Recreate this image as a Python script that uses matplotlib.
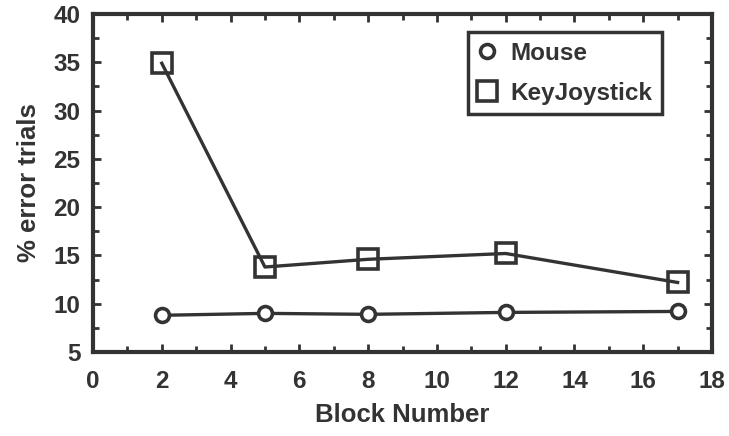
import matplotlib
matplotlib.use("Agg")
import matplotlib.pyplot as plt
from matplotlib.ticker import MultipleLocator
from matplotlib.lines import Line2D

plt.rcParams['font.family'] = ['Liberation Sans', 'DejaVu Sans']
plt.rcParams['font.weight'] = 'bold'
plt.rcParams['axes.labelweight'] = 'bold'

blocks = [2, 5, 8, 12, 17]
mouse = [8.8, 9.0, 8.9, 9.1, 9.2]
keyjoystick = [34.9, 13.8, 14.6, 15.2, 12.2]
series_names = ["Mouse", "KeyJoystick"]

ink = "#333333"
fig = plt.figure(figsize=(7.29, 4.36), dpi=100)
ax = fig.add_axes([93/729, 84/436, (712-93)/729, (352-14)/436])

ax.plot(blocks, mouse, color=ink, lw=2.4, marker='o', ms=10, mfc='white',
        mec=ink, mew=2.6, label=series_names[0])
ax.plot(blocks, keyjoystick, color=ink, lw=2.4, marker='s', ms=14, mfc='none',
        mec=ink, mew=2.6, label=series_names[1])

ax.set_xlim(0, 18)
ax.set_ylim(5, 40)
ax.xaxis.set_major_locator(MultipleLocator(2))
ax.xaxis.set_minor_locator(MultipleLocator(1))
ax.yaxis.set_major_locator(MultipleLocator(5))
ax.yaxis.set_minor_locator(MultipleLocator(2.5))
ax.tick_params(which='both', direction='in', top=True, right=True, color=ink, width=2)
ax.tick_params(which='major', length=6, labelsize=17.5, labelcolor=ink)
ax.tick_params(axis='x', which='major', pad=13)
ax.tick_params(axis='y', which='major', pad=9)
ax.tick_params(which='minor', length=4)
for s in ax.spines.values():
    s.set_linewidth(3)
    s.set_color(ink)

ax.set_xlabel("Block Number", fontsize=18.5, color=ink, labelpad=7)
ax.set_ylabel("% error trials", fontsize=18.5, color=ink, labelpad=9)

handles = [
    Line2D([], [], ls='none', marker='o', ms=10, mfc='white', mec=ink, mew=2.6),
    Line2D([], [], ls='none', marker='s', ms=14, mfc='none', mec=ink, mew=2.6),
]
leg = ax.legend(handles, series_names, loc='upper right', bbox_to_anchor=(0.919, 0.947),
                frameon=True, fancybox=False, framealpha=1, fontsize=17.5,
                handlelength=0.8, handletextpad=0.55, borderpad=0.4,
                labelspacing=0.7, borderaxespad=0)
leg.get_frame().set_edgecolor(ink)
leg.get_frame().set_linewidth(2.5)
for t in leg.get_texts():
    t.set_color(ink)

fig.savefig("out.png", dpi=100)
